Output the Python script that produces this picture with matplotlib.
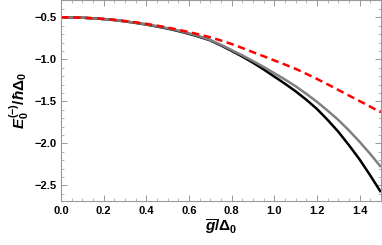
import numpy as np
import matplotlib
matplotlib.use("Agg")
import matplotlib.pyplot as plt
from matplotlib.ticker import MultipleLocator

# ------------------------------------------------------------
# Data
# ------------------------------------------------------------
g_ratio = [0.0, 0.05, 0.1, 0.15, 0.2, 0.25, 0.3, 0.35, 0.4, 0.45,
           0.5, 0.55, 0.6, 0.65, 0.7, 0.75, 0.8, 0.85, 0.9, 0.95,
           1.0, 1.05, 1.1, 1.15, 1.2, 1.25, 1.3, 1.35, 1.4, 1.45, 1.5]

E_black = [-0.5, -0.501, -0.505, -0.512, -0.521, -0.533, -0.549, -0.567,
           -0.587, -0.610, -0.635, -0.664, -0.697, -0.734, -0.775, -0.835,
           -0.900, -0.967, -1.040, -1.120, -1.205, -1.290, -1.380, -1.480,
           -1.590, -1.720, -1.860, -2.020, -2.190, -2.380, -2.580]
E_gray = [-0.5, -0.501, -0.505, -0.512, -0.521, -0.533, -0.548, -0.565,
          -0.584, -0.606, -0.630, -0.658, -0.690, -0.727, -0.770, -0.827,
          -0.890, -0.953, -1.020, -1.090, -1.165, -1.240, -1.320, -1.410,
          -1.505, -1.610, -1.720, -1.845, -1.980, -2.125, -2.280]
E_red = [-0.5, -0.501, -0.505, -0.511, -0.519, -0.530, -0.544, -0.560,
         -0.578, -0.599, -0.622, -0.648, -0.676, -0.706, -0.738, -0.776,
         -0.818, -0.865, -0.915, -0.963, -1.013, -1.062, -1.113, -1.172,
         -1.233, -1.297, -1.363, -1.430, -1.496, -1.563, -1.630]

# ------------------------------------------------------------
# Style
# ------------------------------------------------------------
plt.rcParams['font.family'] = ['Liberation Sans', 'DejaVu Sans']
plt.rcParams['font.weight'] = 'bold'
plt.rcParams['mathtext.fontset'] = 'custom'
plt.rcParams['mathtext.rm'] = 'Liberation Sans:bold'
plt.rcParams['mathtext.it'] = 'Liberation Sans:italic:bold'
plt.rcParams['mathtext.bf'] = 'Liberation Sans:bold'

fig = plt.figure(figsize=(3.82, 2.45), dpi=100)
ax = fig.add_axes([0.16, 0.178, 0.837, 0.82])

ax.plot(g_ratio, E_black, color='black', lw=1.8, solid_capstyle='butt')
ax.plot(g_ratio, E_gray, color='#808080', lw=1.8, solid_capstyle='butt')
ax.plot(g_ratio, E_red, color='#ff0000', lw=1.8, ls=(0, (3, 1.8)))

ax.set_xlim(0, 1.5)
ax.set_ylim(-2.69, -0.30)

ax.xaxis.set_major_locator(MultipleLocator(0.2))
ax.xaxis.set_minor_locator(MultipleLocator(0.05))
ax.yaxis.set_major_locator(MultipleLocator(0.5))
ax.yaxis.set_minor_locator(MultipleLocator(0.1))
ax.xaxis.set_major_formatter(plt.FormatStrFormatter('%.1f'))
ax.yaxis.set_major_formatter(plt.FuncFormatter(lambda v, p: f"{v:.1f}".replace('-', '\u2212')))

for s in ax.spines.values():
    s.set_color('#999999')
    s.set_linewidth(0.8)

ax.tick_params(which='both', direction='in', top=True, right=True,
               color='#999999', labelsize=8, pad=3)
ax.tick_params(which='major', length=4, width=0.7)
ax.tick_params(which='minor', length=2, width=0.5)
for lbl in ax.get_xticklabels() + ax.get_yticklabels():
    lbl.set_fontweight('bold')

ax.set_xlabel(r'$\overline{g}/\Delta_0$', fontsize=11, labelpad=2)
ax.set_ylabel(r'$E_0^{(-)}/\hbar\Delta_0$', fontsize=11, labelpad=3)

plt.savefig("out.png", dpi=100)
plt.close()
